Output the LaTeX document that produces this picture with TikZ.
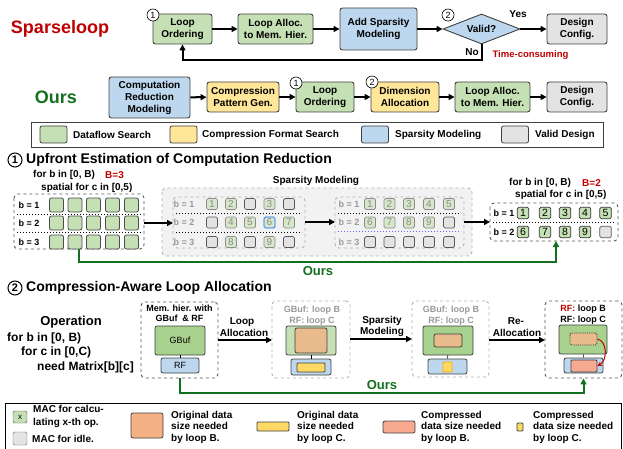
\documentclass[tikz,border=0pt]{standalone}
\usepackage{fontspec}
\setmainfont{Liberation Sans}
\usetikzlibrary{shapes.geometric,arrows.meta}
\definecolor{cgreen}{HTML}{C5E0B4}
\definecolor{cgreenD}{HTML}{A9D18E}
\definecolor{cyellow}{HTML}{FFE699}
\definecolor{cyel2}{HTML}{FFD966}
\definecolor{cblue}{HTML}{BDD7EE}
\definecolor{cgray}{HTML}{E3E3E3}
\definecolor{corange}{HTML}{F4B183}
\definecolor{ctan}{HTML}{E8BA8C}
\definecolor{csalmon}{HTML}{F7AA8F}
\definecolor{cred}{HTML}{C00000}
\definecolor{cours}{HTML}{13701E}
\definecolor{cpale}{HTML}{D7E7CA}
\newcommand\fsz[2]{\fontsize{#1}{#2}\selectfont}
\tikzset{
 box/.style={draw=black!75, line width=0.9pt, rounded corners=2.5pt, align=center, font=\fsz{10}{12}\bfseries, inner sep=0pt},
 arr/.style={line width=2pt, -{Triangle[length=6pt,width=6pt]}},
 numc/.style={circle, draw, line width=0.6pt, fill=white, inner sep=0pt, minimum size=12pt, font=\fsz{9}{9}},
 headc/.style={circle, draw, line width=1pt, inner sep=0pt, minimum size=14pt, font=\fsz{11}{11}\bfseries},
 txt/.style={font=\fsz{10}{12}\bfseries, inner sep=0pt},
 swatch/.style={draw=black!75, line width=0.8pt, rounded corners=2pt, inner sep=0pt},
 cellA/.style={draw=black!70, fill=cgreen, rounded corners=2pt, minimum size=14pt, inner sep=0pt, line width=0.8pt},
 cg/.style={draw=black!45, fill=cpale, rounded corners=1.5pt, minimum size=11pt, inner sep=0pt, line width=0.7pt, text=black!45, font=\fsz{10}{10}},
 ce/.style={draw=black!65, fill=cgray, rounded corners=1.5pt, minimum size=11pt, inner sep=0pt, line width=0.7pt},
 cb/.style={draw=blue!60!cyan, fill=cpale, rounded corners=1.5pt, minimum size=11pt, inner sep=0pt, line width=0.7pt, text=black!45, font=\fsz{10}{10}},
 rg/.style={draw=black!80, fill=cgreen, rounded corners=1.5pt, minimum size=11.5pt, inner sep=0pt, line width=0.7pt, font=\fsz{10.5}{10}},
 re/.style={draw=black!65, fill=cgray, rounded corners=1.5pt, minimum size=11.5pt, inner sep=0pt, line width=0.7pt},
 blab/.style={font=\fsz{9}{9}\bfseries, inner sep=0pt},
 gblab/.style={font=\fsz{9}{9}\bfseries, inner sep=0pt, text=black!40},
 dbox/.style={draw=black!65, dashed, line width=0.9pt, rounded corners=4pt},
 gdbox/.style={draw=black!30, dashed, line width=0.9pt, rounded corners=4pt},
 sarr/.style={line width=2pt, -{Triangle[length=6pt,width=6pt]}},
 oursl/.style={draw=cours, line width=2pt, -{Triangle[length=6pt,width=6pt]}},
}
\begin{document}
\begin{tikzpicture}[x=1pt,y=-1pt]
\useasboundingbox (0,0) rectangle (623,449);
% ---------------- Sparseloop row
\node[font=\fsz{18}{18}\bfseries, text=cred, inner sep=0pt] (tsp) at (60,29) {Sparseloop};
\node[box, fill=cgreen, minimum width=59pt, minimum height=30pt] (s1) at (182.5,29) {Loop\\Ordering};
\node[box, fill=cgreen, minimum width=75pt, minimum height=30pt] (s2) at (275.5,29) {Loop Alloc.\\to Mem. Hier.};
\node[box, fill=cblue, minimum width=77pt, minimum height=42pt] (s3) at (378.5,29) {Add Sparsity\\Modeling};
\node[diamond, draw=black!75, line width=0.9pt, fill=cblue, aspect=2.5, inner sep=0pt, minimum width=77pt, minimum height=30pt, font=\fsz{10}{12}\bfseries] (s4) at (481.5,29) {Valid?};
\node[box, fill=cgray, minimum width=60pt, minimum height=30pt] (s5) at (577,29) {Design\\Config.};
\draw[arr] (s1) -- (s2);
\draw[arr] (s2) -- (s3);
\draw[arr] (s3) -- (s4);
\draw[arr] (s4) -- (s5);
\draw[arr] (s4.south) -- ++(0,16) -| (s1.south);
\node[numc] (n1a) at (153,15) {1};
\node[numc] (n2a) at (448,15) {2};
\node[txt] (yes) at (518,14) {Yes};
\node[txt] (no) at (472,52) {No};
\node[txt, text=cred, font=\fsz{9.5}{10}\bfseries] (tc) at (530.5,55) {Time-consuming};
% ---------------- Ours row
\node[font=\fsz{18}{18}\bfseries, text=cours, inner sep=0pt] (tours) at (56,97) {Ours};
\node[box, fill=cblue, minimum width=81pt, minimum height=41pt] (o1) at (149.5,97.5) {Computation\\Reduction\\Modeling};
\node[box, fill=cyellow, minimum width=72pt, minimum height=30pt] (o2) at (243,97) {Compression\\Pattern Gen.};
\node[box, fill=cgreen, minimum width=58pt, minimum height=30pt] (o3) at (325,97) {Loop\\Ordering};
\node[box, fill=cyellow, minimum width=68pt, minimum height=30pt] (o4) at (405,97) {Dimension\\Allocation};
\node[box, fill=cgreen, minimum width=75pt, minimum height=30pt] (o5) at (492.5,97) {Loop Alloc.\\to Mem. Hier.};
\node[box, fill=cgray, minimum width=60pt, minimum height=30pt] (o6) at (577,97) {Design\\Config.};
\draw[arr] (o1) -- (o2);
\draw[arr] (o2) -- (o3);
\draw[arr] (o3) -- (o4);
\draw[arr] (o4) -- (o5);
\draw[arr] (o5) -- (o6);
\node[numc] (n1b) at (296,83) {1};
\node[numc] (n2b) at (372,82) {2};
% ---------------- legend 1
\draw[line width=0.9pt, draw=black!75] (31,122) rectangle (603,147);
\node[swatch, fill=cgreen, minimum width=27pt, minimum height=17pt] (lg1) at (53.5,134.5) {};
\node[txt, anchor=west] (lt1) at (73,134.5) {Dataflow Search};
\node[swatch, fill=cyellow, minimum width=27pt, minimum height=17pt] (lg2) at (183.5,134.5) {};
\node[txt, anchor=west] (lt2) at (202,134.5) {Compression Format Search};
\node[swatch, fill=cblue, minimum width=27pt, minimum height=17pt] (lg3) at (375,134.5) {};
\node[txt, anchor=west] (lt3) at (395,134.5) {Sparsity Modeling};
\node[swatch, fill=cgray, minimum width=27pt, minimum height=17pt] (lg4) at (515,134.5) {};
\node[txt, anchor=west] (lt4) at (535,134.5) {Valid Design};
% ---------------- Section 1
\node[headc] (h1) at (15,160) {1};
\node[font=\fsz{14}{14}\bfseries, anchor=west, inner sep=0pt] (h1t) at (26,160) {Upfront Estimation of Computation Reduction};
\node[txt, anchor=west] (f1) at (33,175) {for b in [0, B)};
\node[txt, anchor=west, text=cred] (b3) at (105,175) {B=3};
\node[txt, anchor=west] (f2) at (41,188) {spatial for c in [0,5)};
\draw[dbox] (14,194) rectangle (144,249);
\coordinate (lbE) at (144,223);
\foreach \y [count=\j] in {205,223,242} {
  \node[blab] (lbl\j) at (29,\y) {b = \j};
  \foreach \x [count=\i] in {56.5,75,93.5,112.5,131.5}
    \node[cellA] (L\j\i) at (\x,\y) {};
}
\draw[dotted, line width=1pt] (17,214) -- (141,214);
\draw[dotted, line width=1pt] (17,232.5) -- (141,232.5);
% sparsity modeling
\draw[gdbox, fill=black!5] (162,188) rectangle (472,256);
\node[txt] (smt) at (316,181) {Sparsity Modeling};
\draw[gdbox] (173,197) rectangle (305,248);
\coordinate (in1W) at (173,223);
\coordinate (in1E) at (305,222);
\foreach \y [count=\j] in {204,222.5,242} \node[gblab] (ga\j) at (184,\y) {b = \j};
\foreach \x/\y/\t/\s [count=\k] in {212/204/1/cg,231/204/2/cg,250/204//ce,269.5/204/3/cg,289/204//ce,
  212/222.5//ce,231/222.5/4/cg,250/222.5/5/cg,269.5/222.5/6/cb,289/222.5/7/cg,
  212/242//ce,231/242/8/cg,250/242//ce,269.5/242/9/cg,289/242//ce}
  \node[style=\s] (A\k) at (\x,\y) {\t};
\draw[dotted, line width=1pt] (176,213) -- (302,213);
\draw[dotted, line width=1pt] (176,232) -- (302,232);
\draw[gdbox] (335,197) rectangle (464,248);
\coordinate (in2W) at (335,222);
\coordinate (in2E) at (464,222);
\foreach \y [count=\j] in {204,222.5,242} \node[gblab] (gb\j) at (349,\y) {b = \j};
\foreach \x/\y/\t/\s [count=\k] in {370/204/1/cg,389.5/204/2/cg,409/204/3/cg,429/204/4/cg,449/204/5/cg,
  370/222.5/6/cg,389.5/222.5/7/cg,409/222.5/8/cg,429/222.5/9/cg,449/222.5//ce,
  370/242//ce,389.5/242//ce,409/242//ce,429/242//ce,449/242//ce}
  \node[style=\s] (B\k) at (\x,\y) {\t};
\draw[dotted, line width=1pt] (338,213) -- (461,213);
\draw[dotted, line width=1pt, draw=blue!60] (338,231) -- (461,231);
\draw[arr] (lbE) -- (in1W);
\draw[arr] (in1E) -- (in2W);
% result
\node[txt, anchor=west] (f3) at (509,183) {for b in [0, B)};
\node[txt, anchor=west, text=cred] (b2) at (582,183) {B=2};
\node[txt, anchor=west] (f4) at (515,195) {spatial for c in [0,5)};
\draw[dbox] (490,203) rectangle (618,241);
\coordinate (rbW) at (490,222);
\foreach \y [count=\j] in {213,232} \node[blab] (rl\j) at (504,\y) {b = \j};
\foreach \x/\y/\t/\s [count=\k] in {523/213/1/rg,545/213/2/rg,565/213/3/rg,585/213/4/rg,605.5/213/5/rg,
  523/232/6/rg,545/232/7/rg,565/232/8/rg,585/232/9/rg,605.5/232//re}
  \node[style=\s] (C\k) at (\x,\y) {\t};
\draw[dotted, line width=1pt] (493,222.5) -- (615,222.5);
\draw[arr] (in2E) -- (rbW);
\coordinate (g1a) at (79,249);
\coordinate (g1b) at (556,241);
\draw[oursl] (g1a) -- (79,262) -- (556,262) -- (g1b);
\node[font=\fsz{13}{13}\bfseries, text=cours, inner sep=0pt] (ours1) at (318,271) {Ours};
% ---------------- Section 2
\node[headc] (h2) at (15,288) {2};
\node[font=\fsz{14}{14}\bfseries, anchor=west, inner sep=0pt] (h2t) at (26,288) {Compression-Aware Loop Allocation};
\node[font=\fsz{13}{13}\bfseries, inner sep=0pt] (op) at (71,322) {Operation};
\node[font=\fsz{12}{12}\bfseries, anchor=west, inner sep=0pt] (op1) at (7,338) {for b in [0, B)};
\node[font=\fsz{12}{12}\bfseries, anchor=west, inner sep=0pt] (op2) at (21,352) {for c in [0,C)};
\node[font=\fsz{12}{12}\bfseries, anchor=west, inner sep=0pt] (op3) at (37,367) {need Matrix[b][c]};
% M1
\node[dbox, minimum width=77pt, minimum height=76pt, inner sep=0pt] (m1) at (179.5,340) {};
\node[blab] (m1t1) at (179.5,308) {Mem. hier. with};
\node[blab] (m1t2) at (179.5,318) {GBuf\ \ \& RF};
\node[swatch, fill=cgreenD, minimum width=50pt, minimum height=29pt, font=\fsz{9}{9}] (m1g) at (180,340.5) {GBuf};
\node[swatch, fill=cblue, minimum width=38pt, minimum height=15pt, font=\fsz{9}{9}] (m1r) at (180,365.5) {RF};
\draw[line width=0.6pt] (m1g) -- (m1r);
% M2
\node[gdbox, minimum width=78pt, minimum height=77pt, inner sep=0pt] (m2) at (311,339.5) {};
\node[gblab] (m2t1) at (312,310) {GBuf: loop B};
\node[gblab] (m2t2) at (312,321) {RF: loop C};
\node[swatch, fill=cgreen, minimum width=50pt, minimum height=29pt] (m2g) at (311,340.5) {};
\node[swatch, fill=ctan, minimum width=32pt, minimum height=25pt] (m2o) at (311,340.5) {};
\node[swatch, fill=cblue, minimum width=40pt, minimum height=16pt] (m2r) at (311,367) {};
\node[swatch, fill=cyel2, minimum width=28pt, minimum height=9pt, rounded corners=1pt] (m2y) at (311,367.5) {};
\draw[line width=0.6pt] (m2g) -- (m2r);
% M3
\node[gdbox, minimum width=77pt, minimum height=76pt, inner sep=0pt] (m3) at (450.5,339) {};
\node[gblab] (m3t1) at (451,310) {GBuf: loop B};
\node[gblab] (m3t2) at (451,321) {RF: loop C};
\node[swatch, fill=cgreenD, minimum width=50pt, minimum height=29pt] (m3g) at (448,340.5) {};
\node[swatch, fill=ctan, minimum width=28pt, minimum height=13pt] (m3o) at (448,340.5) {};
\node[swatch, fill=cblue, minimum width=39pt, minimum height=15pt] (m3r) at (447.5,366.5) {};
\node[draw=orange!70!yellow, line width=0.8pt, fill=cyel2, rounded corners=1pt, minimum width=9pt, minimum height=10pt, inner sep=0pt] (m3y) at (447.5,367) {};
\draw[line width=0.6pt] (m3g) -- (m3r);
% M4
\node[dbox, minimum width=77pt, minimum height=77pt, inner sep=0pt] (m4) at (583.5,339.5) {};
\node[blab] (m4t1) at (583,309) {\textcolor{cred}{RF:} loop B};
\node[blab] (m4t2) at (583,320) {RF: loop C};
\node[swatch, fill=cgreenD, minimum width=48pt, minimum height=29pt] (m4g) at (583,339.5) {};
\node[draw=black!80, densely dotted, line width=0.9pt, fill=ctan, rounded corners=1.5pt, minimum width=27pt, minimum height=12pt, inner sep=0pt] (m4o) at (583.5,339) {};
\node[swatch, fill=cblue, minimum width=39pt, minimum height=15pt] (m4r) at (583.5,365.5) {};
\node[swatch, fill=csalmon, minimum width=26pt, minimum height=12pt, rounded corners=1pt] (m4s) at (584,366) {};
\draw[line width=0.6pt] (m4g) -- (m4r);
\draw[cred, line width=1pt, -{Stealth[length=4.5pt,width=4.5pt]}] (m4o.east) .. controls (607,341) and (608,360) .. (m4s.east);
% arrows between boxes
\coordinate (a1s) at (218,340);
\coordinate (a1e) at (272,340);
\draw[sarr] (a1s) -- (a1e);
\node[txt] (a1t1) at (242,322) {Loop};
\node[txt] (a1t2) at (244,333) {Allocation};
\coordinate (a2s) at (350,339);
\coordinate (a2e) at (412,339);
\draw[sarr] (a2s) -- (a2e);
\node[txt] (a2t1) at (382,321) {Sparsity};
\node[txt] (a2t2) at (382,332) {Modeling};
\coordinate (a3s) at (489,340);
\coordinate (a3e) at (545,340);
\draw[sarr] (a3s) -- (a3e);
\node[txt] (a3t1) at (516,321) {Re-};
\node[txt] (a3t2) at (517,333) {Allocation};
\draw[oursl] (m1.south) -- ++(0,15) -| (m4.south);
\node[font=\fsz{13}{13}\bfseries, text=cours, inner sep=0pt] (ours2) at (382,385) {Ours};
% ---------------- bottom legend
\draw[line width=0.9pt] (5,455) -- (5,403) -- (621,403) -- (621,455);
\node[draw=black!70, fill=cgreen, rounded corners=1.5pt, minimum width=14pt, minimum height=12pt, inner sep=0pt, font=\fsz{8}{8}] (bl1) at (20,417) {x};
\node[txt, anchor=west, align=left, font=\fsz{10}{13}\bfseries] (bt1) at (33,416.5) {MAC for calcu-\\lating x-th op.};
\node[draw=black!60, fill=cgray, rounded corners=1.5pt, minimum width=14pt, minimum height=13pt, inner sep=0pt] (bl2) at (20,438.5) {};
\node[txt, anchor=west] (bt2) at (32,439) {MAC for idle.};
\node[swatch, fill=corange, minimum width=32pt, minimum height=25pt] (bl3) at (147,425.5) {};
\node[txt, anchor=west, align=left, font=\fsz{10}{11.5}\bfseries] (bt3) at (171,427) {Original data\\size needed\\by loop B.};
\node[swatch, fill=cyel2, minimum width=32pt, minimum height=9pt, rounded corners=1pt] (bl4) at (273,426.5) {};
\node[txt, anchor=west, align=left, font=\fsz{10}{11.5}\bfseries] (bt4) at (297,427) {Original data\\size needed\\by loop C.};
\node[swatch, fill=csalmon, minimum width=32pt, minimum height=12pt] (bl5) at (399,427) {};
\node[txt, anchor=west, align=left, font=\fsz{10}{11.5}\bfseries] (bt5) at (421,427) {Compressed\\data size needed\\by loop B.};
\node[swatch, fill=cyel2, minimum width=6pt, minimum height=8pt, rounded corners=1pt] (bl6) at (520,427) {};
\node[txt, anchor=west, align=left, font=\fsz{10}{11.5}\bfseries] (bt6) at (533,427) {Compressed\\data size needed\\by loop C.};
\end{tikzpicture}
\end{document}
